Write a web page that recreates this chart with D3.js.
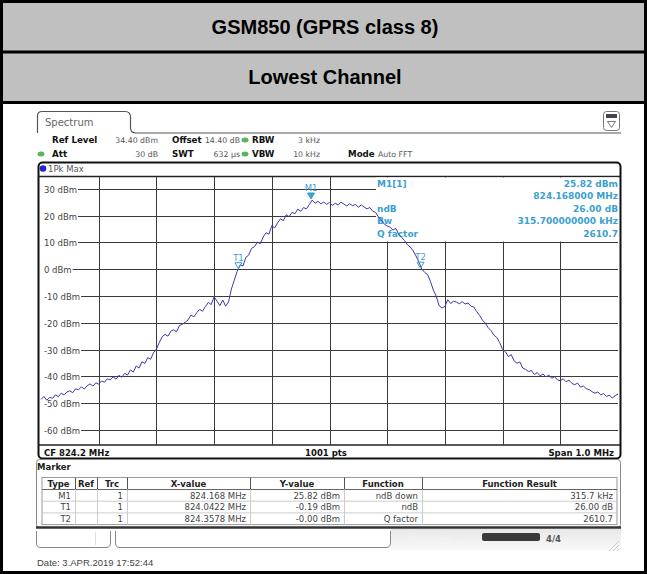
<!DOCTYPE html>
<html>
<head>
<meta charset="utf-8">
<script src="https://cdn.jsdelivr.net/npm/d3@7"></script>
<style>
  body { margin: 0; background: #fff; }
  svg text { font-family: "DejaVu Sans", Verdana, sans-serif; }
</style>
</head>
<body>
<div id="viz"></div>
<script>
(function() {

    var width = 647;
    var height = 574;

    // sweep: 823.7 .. 824.7 MHz, one reading every 5 kHz
    var startMHz = 823.7;
    var stepMHz = 0.005;
    var traceDbm = [
        -48.6, -47.5, -48.9, -47.8, -48.2, -46.9, -47.6, -46.3, -46.9, -45.8,
        -45.4, -46.1, -44.6, -45.0, -43.9, -44.7, -43.5, -42.8, -43.6, -42.4,
        -42.9, -41.7, -42.2, -40.9, -41.3, -40.2, -41.0, -39.6, -40.3, -38.9,
        -39.5, -37.6, -38.4, -36.1, -36.9, -34.5, -35.2, -33.0, -33.6, -31.2,
        -29.8, -27.4, -25.2, -24.3, -25.0, -23.1, -22.6, -23.4, -21.0, -20.6,
        -19.8, -18.9, -17.1, -17.8, -16.2, -15.0, -15.7, -13.9, -12.4, -13.2,
        -10.3, -11.9, -13.6, -11.5, -13.8, -12.2, -7.4, -4.1, -0.8, 1.6,
        1.2, 4.4, 5.3, 7.8, 8.4, 10.1, 9.5, 12.0, 13.6, 13.1,
        16.2, 15.4, 17.3, 18.8, 18.1, 20.3, 19.6, 21.2, 20.7, 22.4,
        21.6, 23.0, 22.5, 24.1, 25.8, 24.6, 25.3, 24.4, 25.1, 24.2,
        24.9, 23.8, 24.6, 24.0, 25.0, 24.3, 23.6, 24.4, 23.7, 24.2,
        23.1, 24.0, 23.2, 22.5, 23.0, 21.6, 21.2, 19.4, 18.3, 16.8,
        16.1, 15.7, 14.6, 15.2, 13.0, 11.9, 10.7, 9.1, 8.3, 6.8,
        4.9, 2.6, 0.0, -1.2, -2.0, -4.6, -7.8, -10.1, -13.6, -14.5,
        -13.9, -11.4, -12.8, -11.9, -12.3, -12.9, -12.1, -13.0, -12.6, -13.8,
        -14.1, -15.8, -17.2, -19.0, -20.1, -21.8, -22.9, -24.6, -25.5, -27.4,
        -29.9, -30.8, -32.6, -31.9, -34.2, -35.1, -34.6, -36.9, -37.4, -38.2,
        -37.8, -39.3, -38.6, -39.8, -39.1, -40.2, -39.5, -40.7, -40.1, -41.3,
        -41.6, -40.9, -42.0, -41.4, -42.6, -43.1, -42.5, -44.0, -43.6, -44.6,
        -44.9, -45.7, -46.3, -45.8, -46.9, -46.4, -47.5, -47.0, -48.1, -47.2, -46.6
    ];

    var yTicks = [30, 20, 10, 0, -10, -20, -30, -40, -50, -60];
    var xGrid = [823.8, 823.9, 824.0, 824.1, 824.2, 824.3, 824.4, 824.5, 824.6];

    // markers
    var markerNames = ["M1", "T1", "T2"];
    var markerFreqs = [824.168, 824.0422, 824.3578];
    var markerLevels = [25.82, -0.19, -0.00];

    // marker table
    var tableHeader = ["Type", "Ref", "Trc", "X-value", "Y-value", "Function", "Function Result"];
    var tableXValues = ["824.168 MHz", "824.0422 MHz", "824.3578 MHz"];
    var tableYValues = ["25.82 dBm", "-0.19 dBm", "-0.00 dBm"];
    var tableFunctions = ["ndB down", "ndB", "Q factor"];
    var tableResults = ["315.7 kHz", "26.00 dB", "2610.7"];

    // marker info box
    var infoLabels = ["M1[1]", "", "ndB", "Bw", "Q factor"];
    var infoValues = ["25.82 dBm", "824.168000 MHz", "26.00 dB", "315.700000000 kHz", "2610.7"];

    var blue = "#3a3aae";
    var cyan = "#3c9fd0";

    var svg = d3.select("#viz")
        .append("svg")
        .attr("width", width)
        .attr("height", height);

    svg.append("rect").attr("width", width).attr("height", height).attr("fill", "#fff");

    // title rows
    svg.append("rect").attr("x", 0).attr("y", 0).attr("width", width).attr("height", 103).attr("fill", "#c0c0c0");
    svg.append("line").attr("x1", 0).attr("x2", width).attr("y1", 52).attr("y2", 52).attr("stroke", "#000").attr("stroke-width", 3);
    svg.append("line").attr("x1", 0).attr("x2", width).attr("y1", 102.5).attr("y2", 102.5).attr("stroke", "#000").attr("stroke-width", 3);
    svg.append("rect").attr("x", 1.5).attr("y", 1.5).attr("width", width - 3).attr("height", height - 3)
        .attr("fill", "none").attr("stroke", "#000").attr("stroke-width", 3);

    svg.append("text").attr("x", 325).attr("y", 34).attr("text-anchor", "middle")
        .style("font-family", "'Liberation Sans', Arial, sans-serif").style("font-weight", "bold").style("font-size", "20px")
        .text("GSM850 (GPRS class 8)");
    svg.append("text").attr("x", 325).attr("y", 84).attr("text-anchor", "middle")
        .style("font-family", "'Liberation Sans', Arial, sans-serif").style("font-weight", "bold").style("font-size", "20px")
        .text("Lowest Channel");

    // Spectrum tab
    svg.append("path")
        .attr("d", "M37.5,133 L37.5,116 Q37.5,111.5 42,111.5 L125,111.5 Q130.5,111.5 130.5,117 L130.5,128 Q130.5,133 136,133 L621,133")
        .attr("fill", "none").attr("stroke", "#555").attr("stroke-width", 1.2);
    svg.append("text").attr("x", 45).attr("y", 126).attr("fill", "#666").style("font-size", "10px").text("Spectrum");

    // icon top right
    svg.append("rect").attr("x", 603.5).attr("y", 111.5).attr("width", 16).attr("height", 19).attr("rx", 3)
        .attr("fill", "#fff").attr("stroke", "#777");
    svg.append("rect").attr("x", 606).attr("y", 114).attr("width", 11).attr("height", 4).attr("fill", "#445");
    svg.append("path").attr("d", "M607.5,121.5 L615.5,121.5 L611.5,127.5 Z").attr("fill", "none").attr("stroke", "#555").attr("stroke-width", 0.8);

    // setting rows
    var setting = svg.append("g");
    function put(x, y, t, bold, anchor) {
        setting.append("text").attr("x", x).attr("y", y)
            .attr("text-anchor", anchor || "start")
            .attr("fill", bold ? "#111" : "#555")
            .style("font-weight", bold ? "bold" : "normal")
            .style("font-size", bold ? "8.7px" : "7.8px")
            .text(t);
    }
    put(52, 143, "Ref Level", true);
    put(158, 143, "34.40 dBm", false, "end");
    put(172, 143, "Offset", true);
    put(240, 143, "14.40 dB", false, "end");
    put(252, 143, "RBW", true);
    put(320, 143, "3 kHz", false, "end");
    put(52, 157, "Att", true);
    put(158, 157, "30 dB", false, "end");
    put(172, 157, "SWT", true);
    put(240, 157, "632 µs", false, "end");
    put(252, 157, "VBW", true);
    put(320, 157, "10 kHz", false, "end");
    put(348, 157, "Mode", true);
    put(378, 157, "Auto FFT", false);
    [[245, 140], [41, 154], [245, 154]].forEach(function(p) {
        svg.append("ellipse").attr("cx", p[0]).attr("cy", p[1]).attr("rx", 3.5).attr("ry", 2.5).attr("fill", "#5ab45a");
    });

    // scales
    var x = d3.scaleLinear().domain([823.7, 824.7]).range([41, 618]);
    var y = d3.scaleLinear().domain([-65.6, 34.4]).range([445, 177]);

    // frame of the diagram
    svg.append("rect").attr("x", 38.5).attr("y", 162.5).attr("width", 582).attr("height", 296).attr("rx", 4)
        .attr("fill", "#fff").attr("stroke", "#111").attr("stroke-width", 2);
    svg.append("circle").attr("cx", 43).attr("cy", 168.5).attr("r", 3.3).attr("fill", "#2424c8");
    svg.append("text").attr("x", 48).attr("y", 172).attr("fill", "#555").style("font-size", "8.5px").text("1Pk Max");
    svg.append("line").attr("x1", 39).attr("x2", 620).attr("y1", 176.5).attr("y2", 176.5).attr("stroke", "#222").attr("stroke-width", 1.5);
    svg.append("line").attr("x1", 39).attr("x2", 620).attr("y1", 445).attr("y2", 445).attr("stroke", "#222").attr("stroke-width", 1.5);

    var grid = svg.append("g").attr("stroke", "#3a3a3a").attr("stroke-width", 1);
    grid.selectAll(".vg").data(xGrid).enter().append("line")
        .attr("x1", function(d) { return Math.round(x(d)) + 0.5; })
        .attr("x2", function(d) { return Math.round(x(d)) + 0.5; })
        .attr("y1", 177).attr("y2", 445);
    grid.selectAll(".hg").data(yTicks).enter().append("line")
        .attr("x1", 41).attr("x2", 618)
        .attr("y1", function(d) { return Math.round(y(d)) + 0.5; })
        .attr("y2", function(d) { return Math.round(y(d)) + 0.5; });

    // y labels with white behind them
    var labels = svg.append("g").style("font-size", "8.5px");
    yTicks.forEach(function(d) {
        var g = labels.append("g");
        var bg = g.append("rect").attr("fill", "#fff");
        var t = g.append("text").attr("x", 44).attr("y", Math.round(y(d)) + 3.5).attr("fill", "#444").text(d + " dBm");
        var w = t.node().getComputedTextLength();
        bg.attr("x", 41).attr("y", Math.round(y(d)) - 5).attr("width", w + 4).attr("height", 10);
    });

    // marker info box
    svg.append("rect").attr("x", 376).attr("y", 177.5).attr("width", 242).attr("height", 64).attr("fill", "#fff");
    var info = svg.append("g").style("font-size", "9px").style("font-weight", "bold").attr("fill", cyan);
    infoLabels.forEach(function(t, i) {
        info.append("text").attr("x", 377).attr("y", 186.5 + i * 12.6).text(t);
    });
    infoValues.forEach(function(t, i) {
        info.append("text").attr("x", 618).attr("y", 186.5 + i * 12.6).attr("text-anchor", "end").text(t);
    });

    // trace
    var line = d3.line()
        .x(function(d, i) { return x(startMHz + i * stepMHz); })
        .y(function(d) { return y(d); });
    svg.append("path").datum(traceDbm).attr("d", line)
        .attr("fill", "none").attr("stroke", blue).attr("stroke-width", 1);

    // marker symbols
    markerNames.forEach(function(n, i) {
        var mx = x(markerFreqs[i]);
        var my = y(markerLevels[i]);
        var filled = n === "M1";
        svg.append("path")
            .attr("d", "M" + (mx - 3.5) + "," + (my - 7) + " L" + (mx + 3.5) + "," + (my - 7) + " L" + mx + "," + (my - 1) + " Z")
            .attr("fill", filled ? cyan : "none").attr("stroke", cyan).attr("stroke-width", 1);
        svg.append("text").attr("x", mx).attr("y", my - 9).attr("text-anchor", "middle")
            .attr("fill", cyan).style("font-size", "8.5px").text(n);
    });

    // bottom row of the diagram
    var foot = svg.append("g").style("font-size", "8.5px").style("font-weight", "bold").attr("fill", "#111");
    foot.append("text").attr("x", 44).attr("y", 456).text("CF 824.2 MHz");
    foot.append("text").attr("x", 326).attr("y", 456).attr("text-anchor", "middle").text("1001 pts");
    foot.append("text").attr("x", 614).attr("y", 456).attr("text-anchor", "end").text("Span 1.0 MHz");

    // marker table panel
    svg.append("rect").attr("x", 36.5).attr("y", 459.5).attr("width", 584).attr("height", 68).attr("rx", 3)
        .attr("fill", "#fff").attr("stroke", "#888").attr("stroke-width", 1);
    svg.append("line").attr("x1", 36).attr("x2", 621).attr("y1", 527.5).attr("y2", 527.5).attr("stroke", "#333").attr("stroke-width", 2.5);
    svg.append("text").attr("x", 37).attr("y", 470).attr("fill", "#222").style("font-size", "8.5px").style("font-weight", "bold").text("Marker");

    var colEdges = [42, 75, 97, 127, 250, 344, 422, 617];
    var rowTop = 477.5, headerH = 12, rowH = 11.7;
    var tbl = svg.append("g");
    tbl.append("rect").attr("x", colEdges[0]).attr("y", rowTop).attr("width", colEdges[7] - colEdges[0]).attr("height", headerH + rowH * 3)
        .attr("fill", "#fff").attr("stroke", "#999");
    for (var r = 0; r < 3; r++) {
        tbl.append("line").attr("x1", colEdges[0]).attr("x2", colEdges[7])
            .attr("y1", rowTop + headerH + r * rowH).attr("y2", rowTop + headerH + r * rowH)
            .attr("stroke", r === 0 ? "#666" : "#ccc");
    }
    colEdges.slice(1, 7).forEach(function(cx) {
        tbl.append("line").attr("x1", cx + 0.5).attr("x2", cx + 0.5).attr("y1", rowTop).attr("y2", rowTop + headerH)
            .attr("stroke", "#555");
        tbl.append("line").attr("x1", cx + 0.5).attr("x2", cx + 0.5).attr("y1", rowTop + headerH).attr("y2", rowTop + headerH + rowH * 3)
            .attr("stroke", "#ccc");
    });
    tableHeader.forEach(function(h, i) {
        tbl.append("text").attr("x", (colEdges[i] + colEdges[i + 1]) / 2).attr("y", rowTop + 9.5)
            .attr("text-anchor", "middle").attr("fill", "#222").style("font-size", "8.5px").style("font-weight", "bold").text(h);
    });
    var rowCols = [markerNames, ["", "", ""], ["1", "1", "1"], tableXValues, tableYValues, tableFunctions, tableResults];
    rowCols.forEach(function(col, c) {
        col.forEach(function(t, r) {
            tbl.append("text").attr("x", colEdges[c + 1] - 4).attr("y", rowTop + headerH + r * rowH + 9)
                .attr("text-anchor", "end").attr("fill", "#444").style("font-size", "8.5px").text(t);
        });
    });

    // status bar
    svg.append("path").attr("d", "M36.5,531 L36.5,543 Q36.5,547.5 41,547.5 L106,547.5 Q110.5,547.5 110.5,543 L110.5,531")
        .attr("fill", "none").attr("stroke", "#888");
    svg.append("line").attr("x1", 95.5).attr("x2", 95.5).attr("y1", 532).attr("y2", 545).attr("stroke", "#ddd");
    svg.append("path").attr("d", "M115.5,531 L115.5,543 Q115.5,547.5 120,547.5 L386,547.5 Q390.5,547.5 390.5,543 L390.5,531")
        .attr("fill", "none").attr("stroke", "#888");
    var grad = svg.append("defs").append("linearGradient").attr("id", "sb").attr("x1", 0).attr("x2", 0).attr("y1", 0).attr("y2", 1);
    grad.append("stop").attr("offset", "0").attr("stop-color", "#e8e8e8");
    grad.append("stop").attr("offset", "1").attr("stop-color", "#fafafa");
    svg.append("rect").attr("x", 391).attr("y", 529).attr("width", 230).attr("height", 22).attr("fill", "url(#sb)");
    svg.append("text").attr("x", 408).attr("y", 542).attr("fill", "#f4f4f4").style("font-size", "8.5px").text("Measuring...");
    svg.append("rect").attr("x", 482).attr("y", 533).attr("width", 58).attr("height", 8).attr("rx", 2).attr("fill", "#3a3a3a");
    svg.append("text").attr("x", 546).attr("y", 542).attr("fill", "#555").style("font-size", "8.5px").style("font-weight", "bold").text("4/4");
    [0, 4, 8].forEach(function(o) {
        svg.append("line").attr("x1", 609 + o).attr("y1", 551).attr("x2", 619).attr("y2", 541 + o).attr("stroke", "#ccc");
    });

    // date
    svg.append("text").attr("x", 37).attr("y", 566).attr("fill", "#444")
        .style("font-family", "'Liberation Sans', Arial, sans-serif").style("font-size", "9.5px")
        .text("Date: 3.APR.2019  17:52:44");

})();
</script>
</body>
</html>
